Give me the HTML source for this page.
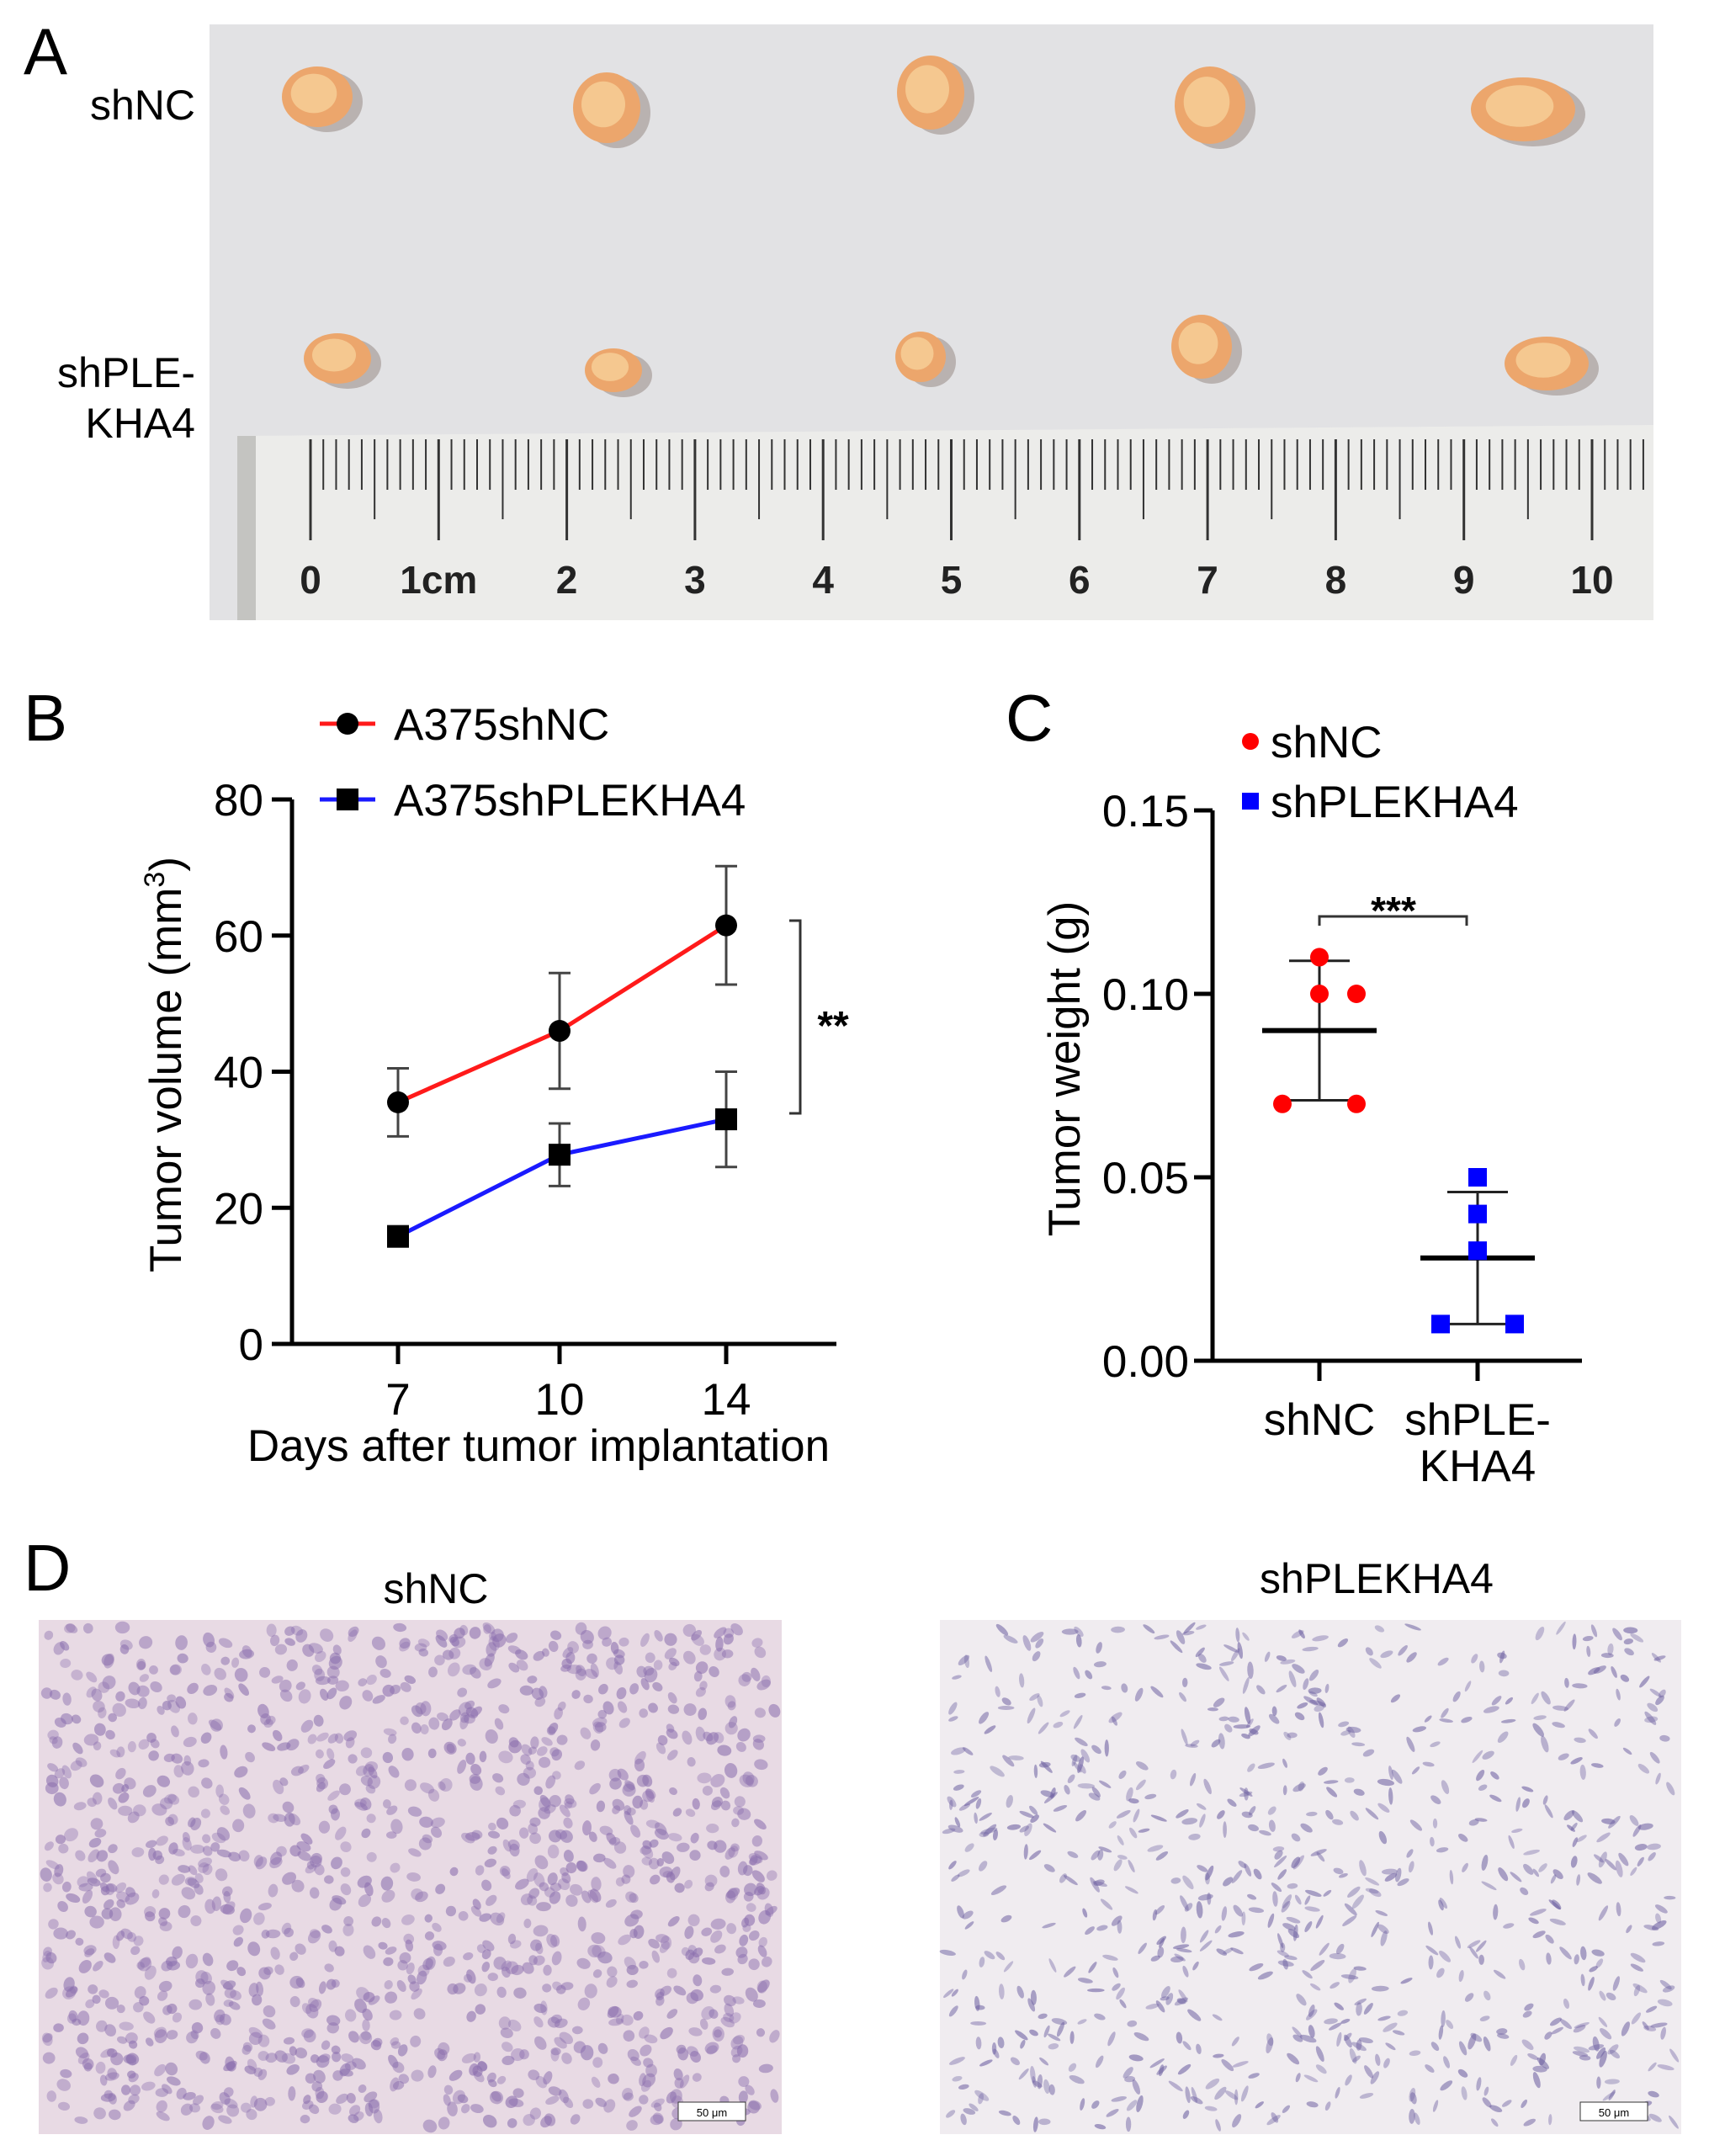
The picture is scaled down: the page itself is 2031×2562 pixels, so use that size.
<!DOCTYPE html>
<html><head><meta charset="utf-8"><style>
body{margin:0;background:#fff;}
svg{display:block;font-family:"Liberation Sans",Arial,sans-serif;}
</style></head><body>
<svg id="fig" width="2031" height="2562" viewBox="0 0 2031 2562">
<rect width="2031" height="2562" fill="#fff"/>
<!-- Panel A -->
<text x="28" y="88" font-size="78">A</text>
<text x="232" y="142" font-size="50" text-anchor="end">shNC</text>
<text x="232" y="460" font-size="50" text-anchor="end">shPLE-</text>
<text x="232" y="520" font-size="50" text-anchor="end">KHA4</text>
<g id="photo">
<rect x="249" y="29" width="1716" height="708" fill="#e2e2e4"/>
<polygon points="290,518 1965,505 1965,737 290,737" fill="#ececea"/>
<rect x="282" y="518" width="22" height="219" fill="#c4c4c1"/>
</g>
<g id="ruler"></g>
<g id="tumors"></g>
<!-- Panel B -->
<text x="28" y="880" font-size="78">B</text>
<g id="chartB"></g>
<!-- Panel C -->
<text x="1195" y="880" font-size="78">C</text>
<g id="chartC"></g>
<!-- Panel D -->
<text x="28" y="1890" font-size="78">D</text>
<text x="518" y="1905" font-size="50" text-anchor="middle">shNC</text>
<text x="1636" y="1893" font-size="50" text-anchor="middle">shPLEKHA4</text>
<g id="histL"><rect x="46" y="1925" width="883" height="611" fill="#e8dae4"/></g>
<g id="histR"><rect x="1117" y="1925" width="881" height="611" fill="#f0ecf0"/></g>
</svg>
<script>
const NS="http://www.w3.org/2000/svg";
function mk(p,t,a,txt){const e=document.createElementNS(NS,t);for(const k in a)e.setAttribute(k,a[k]);if(txt!==undefined)e.textContent=txt;p.appendChild(e);return e;}

// ---- Panel B data ----
const daysB=[7,10,14];
const xTicksB=["7","10","14"];
const ncMean=[35.5,46,61.5];
const ncErr=[5,8.5,8.7];
const shMean=[15.8,27.8,33];
const shErr=[1.5,4.6,7];
const yTicksB=[0,20,40,60,80];

// ---- Panel C data ----
const groupsC=["shNC","shPLEKHA4"];
const ncPts=[0.11,0.10,0.10,0.07,0.07];
const ncOff=[0,0,1,-1,1];
const shPts=[0.05,0.04,0.03,0.01,0.01];
const shOff=[0,0,0,-1,1];
const meanC=[0.09,0.028];
const sdC=[0.019,0.018];
const yTicksC=[0,0.05,0.10,0.15];
const yTickLabelsC=["0.00","0.05","0.10","0.15"];

const FS=53;
// Panel B
(function(){
const g=document.getElementById('chartB');
const ax=347,y0=1597,y80=950,xr=994;
const xPos=[473,665,863];
const X=i=>xPos[i];
const Y=v=>y0-(v/80)*(y0-y80);
let e=mk(g,'line',{x1:ax,y1:y80,x2:ax,y2:y0+2,stroke:'#000','stroke-width':5});

e=mk(g,'line',{x1:ax-2,y1:y0,x2:xr,y2:y0,stroke:'#000','stroke-width':5});

yTicksB.forEach(v=>{mk(g,'line',{x1:ax-24,y1:Y(v),x2:ax,y2:Y(v),stroke:'#000','stroke-width':5});
 const t=mk(g,'text',{x:ax-34,y:Y(v)+19,'font-size':FS,'text-anchor':'end'},String(v));
 });
daysB.forEach((d,i)=>{mk(g,'line',{x1:X(i),y1:y0,x2:X(i),y2:y0+24,stroke:'#000','stroke-width':5});
 const t=mk(g,'text',{x:X(i),y:y0+84,'font-size':FS,'text-anchor':'middle'},xTicksB[i]);
 });
let t=mk(g,'text',{x:640,y:1736,'font-size':FS,'text-anchor':'middle'},'Days after tumor implantation');

t=mk(g,'text',{x:0,y:0,'font-size':FS,'text-anchor':'middle',transform:'translate(215,1265) rotate(-90)'});

t.appendChild(document.createTextNode('Tumor volume (mm'));
mk(t,'tspan',{'font-size':34,dy:-20},'3');mk(t,'tspan',{dy:20},')');
function series(m,er,col,shape,name){
 const pts=m.map((v,i)=>X(i)+','+Y(v)).join(' ');
 const l=mk(g,'polyline',{points:pts,fill:'none',stroke:col,'stroke-width':5});
 
 m.forEach((v,i)=>{const x=X(i);
  mk(g,'line',{x1:x,y1:Y(v+er[i]),x2:x,y2:Y(v-er[i]),stroke:'#444','stroke-width':3});
  mk(g,'line',{x1:x-13,y1:Y(v+er[i]),x2:x+13,y2:Y(v+er[i]),stroke:'#444','stroke-width':3});
  mk(g,'line',{x1:x-13,y1:Y(v-er[i]),x2:x+13,y2:Y(v-er[i]),stroke:'#444','stroke-width':3});
  let p;
  if(shape==='c')p=mk(g,'circle',{cx:x,cy:Y(v),r:13,fill:'#000'});
  else p=mk(g,'rect',{x:x-13,y:Y(v)-13,width:26,height:26,fill:'#000'});
  });
}
series(ncMean,ncErr,'#ff1a1a','c','shnc');
series(shMean,shErr,'#1a1aff','s','shplekha4');
mk(g,'line',{x1:380,y1:860,x2:446,y2:860,stroke:'#ff1a1a','stroke-width':5});
mk(g,'circle',{cx:413,cy:860,r:13,fill:'#000'});
t=mk(g,'text',{x:468,y:879,'font-size':FS},'A375shNC');
mk(g,'line',{x1:380,y1:950,x2:446,y2:950,stroke:'#1a1aff','stroke-width':5});
mk(g,'rect',{x:400,y:937,width:26,height:26,fill:'#000'});
t=mk(g,'text',{x:468,y:969,'font-size':FS},'A375shPLEKHA4');
mk(g,'polyline',{points:'938,1094 951,1094 951,1323 938,1323',fill:'none',stroke:'#333','stroke-width':3});
t=mk(g,'text',{x:990,y:1235,'font-size':48,'font-weight':'bold','text-anchor':'middle'},'**');
})();

// Panel C
(function(){
const g=document.getElementById('chartC');
const ax=1441,y0=1617,yt=963,xr=1880;
const cx=[1568,1756];
const Y=v=>y0-(v/0.15)*(y0-yt);
const off=44;
let e=mk(g,'line',{x1:ax,y1:yt,x2:ax,y2:y0+2,stroke:'#000','stroke-width':5});

e=mk(g,'line',{x1:ax-2,y1:y0,x2:xr,y2:y0,stroke:'#000','stroke-width':5});

yTicksC.forEach((v,i)=>{mk(g,'line',{x1:ax-22,y1:Y(v),x2:ax,y2:Y(v),stroke:'#000','stroke-width':5});
 const t=mk(g,'text',{x:ax-28,y:Y(v)+19,'font-size':FS,'text-anchor':'end'},yTickLabelsC[i]);
 });
cx.forEach(x=>mk(g,'line',{x1:x,y1:y0,x2:x,y2:y0+24,stroke:'#000','stroke-width':5}));
let t=mk(g,'text',{x:cx[0],y:1705,'font-size':FS,'text-anchor':'middle'},'shNC');
t=mk(g,'text',{x:cx[1],y:1705,'font-size':FS,'text-anchor':'middle'},'shPLE-');
mk(g,'text',{x:cx[1],y:1760,'font-size':FS,'text-anchor':'middle'},'KHA4');
t=mk(g,'text',{x:0,y:0,'font-size':FS,'text-anchor':'middle',transform:'translate(1283,1270) rotate(-90)'},'Tumor weight (g)');

[0,1].forEach(i=>{const x=cx[i],m=meanC[i],s=sdC[i];
 mk(g,'line',{x1:x,y1:Y(m+s),x2:x,y2:Y(m-s),stroke:'#222','stroke-width':3});
 mk(g,'line',{x1:x-36,y1:Y(m+s),x2:x+36,y2:Y(m+s),stroke:'#222','stroke-width':3});
 mk(g,'line',{x1:x-36,y1:Y(m-s),x2:x+36,y2:Y(m-s),stroke:'#222','stroke-width':3});
 const ml=mk(g,'line',{x1:x-68,y1:Y(m),x2:x+68,y2:Y(m),stroke:'#000','stroke-width':6});
 });
ncPts.forEach((v,i)=>{const p=mk(g,'circle',{cx:cx[0]+ncOff[i]*off,cy:Y(v),r:11,fill:'#ff0000'});
 });
shPts.forEach((v,i)=>{const x=cx[1]+shOff[i]*off;const p=mk(g,'rect',{x:x-11,y:Y(v)-11,width:22,height:22,fill:'#0000ff'});
 });
mk(g,'circle',{cx:1486,cy:881,r:10,fill:'#ff0000'});
t=mk(g,'text',{x:1510,y:900,'font-size':FS},'shNC');
mk(g,'rect',{x:1476,y:942,width:20,height:20,fill:'#0000ff'});
t=mk(g,'text',{x:1510,y:971,'font-size':FS},'shPLEKHA4');
mk(g,'polyline',{points:cx[0]+',1100 '+cx[0]+',1089 1743,1089 1743,1100',fill:'none',stroke:'#333','stroke-width':3});
t=mk(g,'text',{x:1656,y:1098,'font-size':46,'font-weight':'bold','text-anchor':'middle'},'***');
})();

// Ruler & tumors
(function(){
const r=document.getElementById('ruler');
const x0=369,cm=152.3;
for(let i=0;i<=104;i++){const x=x0+i*cm/10;if(x>1960)break;
 const len=i%10===0?120:(i%5===0?95:60);
 mk(r,'line',{x1:x,y1:522,x2:x,y2:522+len,stroke:'#333','stroke-width':i%10===0?3:2});}
const labs=["0","1cm","2","3","4","5","6","7","8","9","10"];
labs.forEach((l,i)=>mk(r,'text',{x:x0+i*cm,y:705,'font-size':46,'font-weight':'bold','text-anchor':'middle',fill:'#222'},l));
const tg=document.getElementById('tumors');
const T=[[377,115,42,36],[721,128,40,42],[1106,110,40,44],[1438,125,42,46],[1810,130,62,38],[401,426,40,30],[729,440,34,26],[1094,424,30,30],[1428,412,36,38],[1838,432,50,32]];
T.forEach(([x,y,rx,ry])=>{mk(tg,'ellipse',{cx:x+12,cy:y+6,rx:rx,ry:ry,fill:'#6e5a50',opacity:0.35});
 mk(tg,'ellipse',{cx:x,cy:y,rx:rx,ry:ry,fill:'#eca66c'});
 mk(tg,'ellipse',{cx:x-4,cy:y-4,rx:rx*0.65,ry:ry*0.65,fill:'#f5c890'});});
})();

// Histology texture (deterministic)
(function(){
let s=12345;const rnd=()=>{s=(s*1103515245+12345)&0x7fffffff;return s/0x7fffffff;};
function fill(id,x0,w,n,col,rx,ry,op){const g=document.getElementById(id);
 for(let i=0;i<n;i++){const x=x0+8+rnd()*(w-16),y=1933+rnd()*595;
  mk(g,'ellipse',{cx:x,cy:y,rx:rx*(0.7+rnd()*0.6),ry:ry*(0.7+rnd()*0.6),fill:col,opacity:op*(0.6+rnd()*0.4),transform:'rotate('+(rnd()*180)+' '+x+' '+y+')'});}}
fill('histL',46,883,1300,'#8b6fae',7,6,0.6);
fill('histR',1117,881,800,'#6f62a2',8,3,0.6);
const gL=document.getElementById('histL'),gR=document.getElementById('histR');
mk(gL,'rect',{x:806,y:2498,width:80,height:22,fill:'#fff',stroke:'#333','stroke-width':1});
mk(gL,'text',{x:846,y:2515,'font-size':13,'text-anchor':'middle'},'50 μm');
mk(gR,'rect',{x:1878,y:2498,width:80,height:22,fill:'#fff',stroke:'#333','stroke-width':1});
mk(gR,'text',{x:1918,y:2515,'font-size':13,'text-anchor':'middle'},'50 μm');
})();
</script>
</body></html>
